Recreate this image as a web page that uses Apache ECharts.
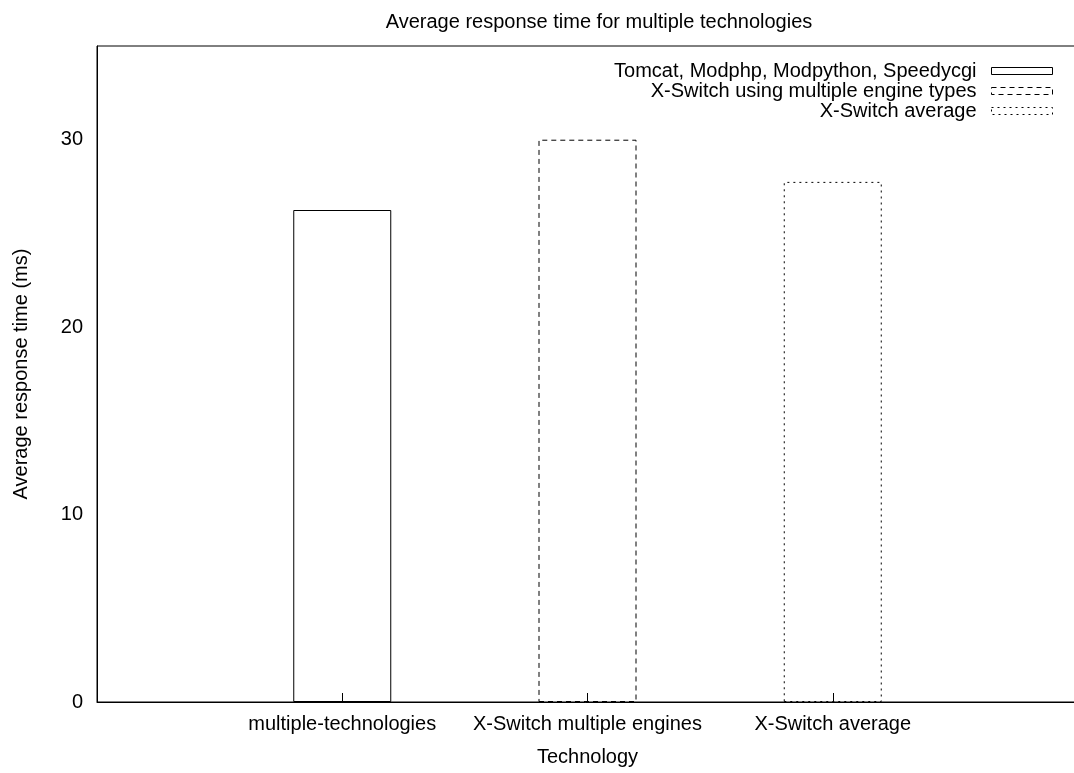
<!DOCTYPE html>
<html>
<head>
<meta charset="utf-8">
<script src="https://cdn.jsdelivr.net/npm/echarts@6/dist/echarts.min.js"></script>
<style>
  html, body { margin: 0; padding: 0; background: #fff; }
  #main { width: 1074px; height: 773px; }
</style>
</head>
<body>
<div id="main"></div>
<script>
// data
var categories = ['', 'multiple-technologies', 'X-Switch multiple engines', 'X-Switch average', ''];
var seriesNames = ['Tomcat, Modphp, Modpython, Speedycgi', 'X-Switch using multiple engine types', 'X-Switch average'];
var values = [26.25, 30.0, 27.75];
var yTicks = [0, 10, 20, 30];

var FONT = 'Liberation Sans';
var dashes = ['solid', [5, 4], [2, 4]];

var chart = echarts.init(document.getElementById('main'));

// one series per bar so every bar gets its own legend entry / line style
var series = seriesNames.map(function (name, i) {
    var data = categories.map(function () { return null; });
    data[i + 1] = values[i];
    return {
        name: name,
        type: 'bar',
        data: data,
        barWidth: 98,
        barGap: '-100%',
        silent: true,
        itemStyle: {
            color: 'rgba(255,255,255,0)',
            borderColor: '#000',
            borderWidth: 1,
            borderType: dashes[i]
        }
    };
});

chart.setOption({
    animation: false,
    backgroundColor: '#fff',
    textStyle: { fontFamily: FONT },
    title: {
        text: 'Average response time for multiple technologies',
        left: 594,
        textAlign: 'center',
        top: 7,
        textStyle: { fontFamily: FONT, fontSize: 20, fontWeight: 'normal', color: '#000' }
    },
    legend: {
        orient: 'vertical',
        align: 'right',
        right: 21,
        top: 61,
        padding: 0,
        itemWidth: 61,
        itemHeight: 7,
        itemGap: 0,
        selectedMode: false,
        data: seriesNames.map(function (n, i) {
            return {
                name: n,
                icon: 'rect',
                itemStyle: { color: '#fff', borderColor: '#000', borderWidth: 1, borderType: dashes[i] }
            };
        }),
        textStyle: { fontFamily: FONT, fontSize: 20, color: '#000', lineHeight: 20, padding: [0, 10, 0, 0] }
    },
    grid: {
        show: true,
        left: 97,
        top: 46,
        width: 981,
        height: 656,
        outerBoundsMode: 'none',
        borderColor: '#000',
        borderWidth: 1,
        backgroundColor: 'transparent'
    },
    xAxis: {
        type: 'category',
        data: categories,
        boundaryGap: false,
        name: 'Technology',
        nameLocation: 'middle',
        nameGap: 45,
        nameTextStyle: { fontFamily: FONT, fontSize: 20, color: '#000' },
        axisLine: { lineStyle: { color: '#000', width: 1 } },
        axisTick: { inside: true, length: 9, lineStyle: { color: '#000' } },
        axisLabel: { fontFamily: FONT, fontSize: 20, color: '#000', margin: 12, interval: 0 },
        splitLine: { show: false }
    },
    yAxis: {
        type: 'value',
        min: 0,
        max: 35,
        interval: 10,
        name: 'Average response time (ms)',
        nameLocation: 'middle',
        nameGap: 66,
        nameTextStyle: { fontFamily: FONT, fontSize: 20, color: '#000' },
        axisLine: { show: true, lineStyle: { color: '#000', width: 1 } },
        axisTick: { inside: true, length: 8, lineStyle: { color: '#000' } },
        axisLabel: {
            fontFamily: FONT, fontSize: 20, color: '#000', margin: 14, showMaxLabel: false,
            formatter: function (v) { return yTicks.indexOf(v) >= 0 ? String(v) : ''; }
        },
        splitLine: { show: false }
    },
    series: series
});
</script>
</body>
</html>
